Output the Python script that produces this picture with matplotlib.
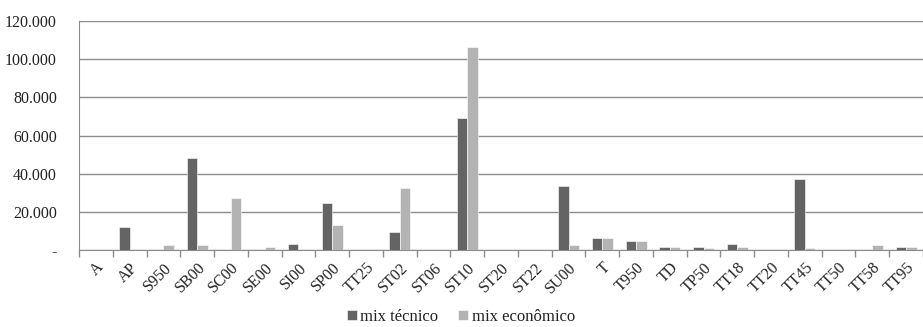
import matplotlib.pyplot as plt
import numpy as np
from matplotlib.ticker import FuncFormatter

# dados
categorias = ['A', 'AP', 'S950', 'SB00', 'SC00', 'SE00', 'SI00', 'SP00', 'TT25',
              'ST02', 'ST06', 'ST10', 'ST20', 'ST22', 'SU00', 'T', 'T950', 'TD',
              'TP50', 'TT18', 'TT20', 'TT45', 'TT50', 'TT58', 'TT95']
mix_tecnico = [0, 12000, 0, 48000, 0, 0, 3300, 24500, 0,
               9600, 0, 69000, 0, 0, 33700, 6500, 4500, 1400,
               1400, 3300, 0, 37400, 0, 0, 1400]
mix_economico = [0, 0, 2700, 2700, 27000, 1400, 0, 13100, 0,
                 32300, 0, 106500, 0, 0, 2600, 6500, 4500, 1400,
                 1300, 1400, 0, 900, 0, 2600, 1400]

plt.rcParams['font.family'] = ['Liberation Serif', 'DejaVu Serif']

fig = plt.figure(figsize=(9.23, 3.27), dpi=100)
ax = fig.add_axes([79 / 923, 1 - 250 / 327, (923 - 79) / 923, 229 / 327])

x = np.arange(len(categorias))
w = 0.31
ax.bar(x - w / 2, mix_tecnico, w, color='#646464', edgecolor='white',
       linewidth=0.4, label='mix técnico', zorder=3)
ax.bar(x + w / 2, mix_economico, w, color='#b3b3b3', edgecolor='white',
       linewidth=0.4, label='mix econômico', zorder=3)

ax.set_ylim(0, 120000)
ax.set_xlim(-0.5, -0.5 + (923 - 79) / 34.2)
ax.set_yticks(np.arange(0, 120001, 20000))


def fmt(v, pos):
    if v == 0:
        return '-'
    return f'{int(v):,}'.replace(',', '.')


ax.yaxis.set_major_formatter(FuncFormatter(fmt))
ax.tick_params(axis='y', length=0, labelsize=11.5, pad=16, labelcolor='#222222')
ax.grid(True, axis='y', color='#8c8c8c', linewidth=1, zorder=0)

ax.set_xticks(x)
ax.set_xticklabels(categorias, rotation=45, ha='right', rotation_mode='anchor',
                   fontsize=11.5, color='#222222')
ax.tick_params(axis='x', which='major', length=0, pad=7)
ax.set_xticks(np.arange(-0.5, len(categorias), 1), minor=True)
ax.tick_params(axis='x', which='minor', length=5, color='#8c8c8c', width=1)

for s in ['top', 'right']:
    ax.spines[s].set_visible(False)
ax.spines['left'].set_color('#8c8c8c')
ax.spines['bottom'].set_color('#8c8c8c')

leg = fig.legend(loc='center', bbox_to_anchor=(461 / 923, 1 - 317 / 327), ncol=2,
                 frameon=False, fontsize=12, handlelength=0.6, handleheight=0.6,
                 handletextpad=0.2, columnspacing=1.2)
for t in leg.get_texts():
    t.set_color('#222222')

fig.savefig('out.png', dpi=100)
